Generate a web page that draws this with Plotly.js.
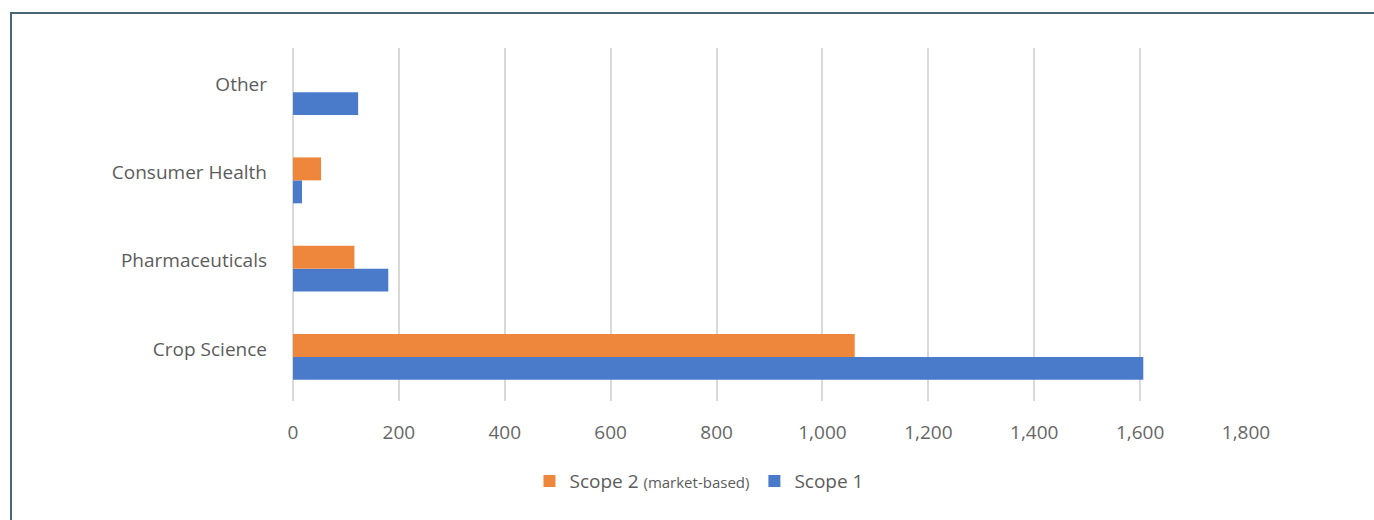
<!DOCTYPE html>
<html>
<head>
<meta charset="utf-8">
<script src="https://cdn.plot.ly/plotly-3.0.1.min.js"></script>
<style>
html,body{margin:0;padding:0;background:#fff;}
#wrap{position:relative;width:1374px;height:520px;overflow:hidden;}
#frame{position:absolute;left:10px;top:12px;width:1400px;height:600px;border:2.5px solid #4a6478;box-sizing:border-box;pointer-events:none;z-index:5;}
#chart{position:absolute;left:0;top:0;width:1374px;height:520px;}
</style>
</head>
<body>
<div id="wrap">
<div id="chart"></div>
<div id="frame"></div>
</div>
<script>
const categories = ["Crop Science", "Pharmaceuticals", "Consumer Health", "Other"];
const scope1 = [1606, 180, 17, 123];
const scope2 = [1061, 116, 53, 0];
const seriesNames = ["Scope 1", "Scope 2 <span style='font-size:15px'>(market-based)</span>"];
const xTicks = [0, 200, 400, 600, 800, 1000, 1200, 1400, 1600, 1800];
const xTickLabels = ["0", "200", "400", "600", "800", "1,000", "1,200", "1,400", "1,600", "1,800"];

const traces = [
  {type: "bar", orientation: "h", name: seriesNames[0], y: categories, x: scope1,
   marker: {color: "#4a7bcb"}, hoverinfo: "x+name"},
  {type: "bar", orientation: "h", name: seriesNames[1], y: categories, x: scope2,
   marker: {color: "#ee873b"}, hoverinfo: "x+name"}
];

const layout = {
  width: 1374, height: 520,
  margin: {l: 293, r: 128, t: 48, b: 119, pad: 0},
  paper_bgcolor: "#ffffff", plot_bgcolor: "#ffffff",
  font: {family: "Open Sans, sans-serif", color: "#666666", size: 19},
  barmode: "group", bargap: 0.48, bargroupgap: 0,
  xaxis: {
    range: [0, 1800], tickvals: xTicks, ticktext: xTickLabels,
    showgrid: true, gridcolor: "#d9d9d9", gridwidth: 2,
    zeroline: true, zerolinecolor: "#d9d9d9", zerolinewidth: 2,
    showline: false, ticks: "", ticklabelstandoff: 18,
    tickfont: {size: 19, color: "#666666"}, fixedrange: true
  },
  yaxis: {
    type: "category", categoryorder: "array", categoryarray: categories,
    showgrid: false, zeroline: false, showline: false, ticks: "",
    ticklabelstandoff: 25, ticklabelshift: -8,
    tickfont: {size: 19, color: "#5c5c5c"}, fixedrange: true
  },
  showlegend: true,
  legend: {
    orientation: "h", traceorder: "reversed",
    x: 0.426, xanchor: "center", y: -0.227, yanchor: "middle",
    font: {size: 19, color: "#5c5c5c"}, bgcolor: "rgba(0,0,0,0)",
    itemwidth: 30
  }
};

Plotly.newPlot("chart", traces, layout, {displayModeBar: false, staticPlot: true});
</script>
</body>
</html>
